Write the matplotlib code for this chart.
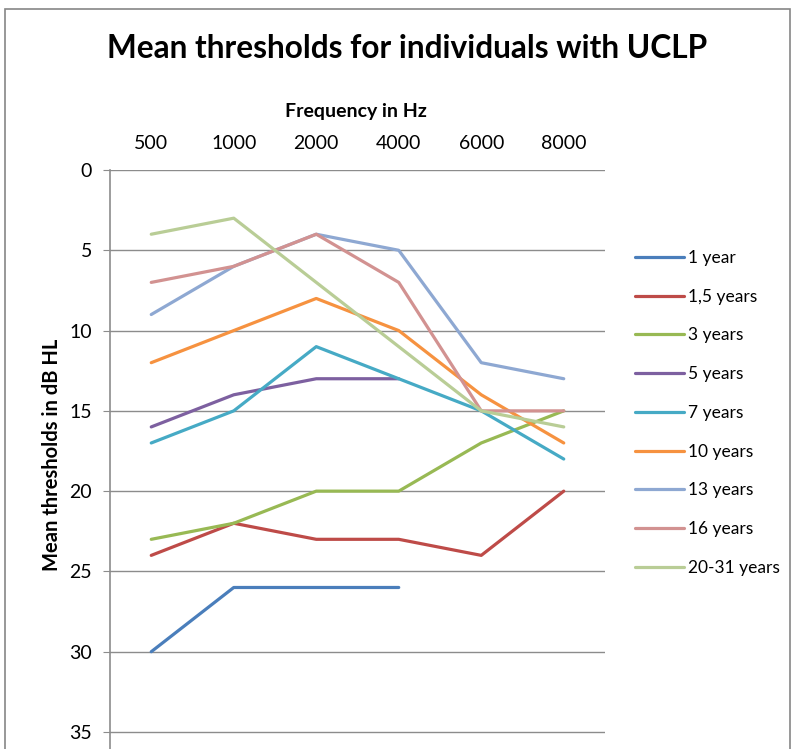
import matplotlib
matplotlib.use("Agg")
import matplotlib.pyplot as plt
from matplotlib.patches import Rectangle
import numpy as np

plt.rcParams['font.family'] = ['Lato', 'DejaVu Sans']

frequencies = ['500', '1000', '2000', '4000', '6000', '8000']
series_names = ['1 year', '1,5 years', '3 years', '5 years', '7 years',
                '10 years', '13 years', '16 years', '20-31 years']
nan = np.nan
y_1 = [30, 26, 26, 26, nan, nan]
y_1_5 = [24, 22, 23, 23, 24, 20]
y_3 = [23, 22, 20, 20, 17, 15]
y_5 = [16, 14, 13, 13, nan, nan]
y_7 = [17, 15, 11, 13, 15, 18]
y_10 = [12, 10, 8, 10, 14, 17]
y_13 = [9, 6, 4, 5, 12, 13]
y_16 = [7, 6, 4, 7, 15, 15]
y_20_31 = [4, 3, 7, 11, 15, 16]
values = [y_1, y_1_5, y_3, y_5, y_7, y_10, y_13, y_16, y_20_31]
colors = ['#4A7EBB', '#BE4B48', '#98B954', '#7D60A0', '#46AAC5',
          '#F69240', '#8EA8D2', '#D29291', '#B9CD96']
yticks = [0, 5, 10, 15, 20, 25, 30, 35]

W, H = 794, 749
fig = plt.figure(figsize=(W / 100, H / 100), dpi=100)

# outer chart border
fig.patches.append(Rectangle((5 / W, -0.01), (785) / W, 1 - 9 / H + 0.01,
                             transform=fig.transFigure, fill=False,
                             edgecolor='#868686', linewidth=1.2))

left, right = 110, 605
top, bottom = 170, 749
ax = fig.add_axes([left / W, 1 - bottom / H, (right - left) / W, (bottom - top) / H])

x = np.arange(len(frequencies))
for name, vals, c in zip(series_names, values, colors):
    ax.plot(x, vals, color=c, lw=2.3, label=name, solid_capstyle='round')

ax.set_xlim(-0.5, len(frequencies) - 0.5)
ax.set_ylim((bottom - top) / ((732 - 170) / 35), 0)
ax.set_yticks(yticks)
ax.yaxis.grid(True, color='#8C8C8C', lw=1)
ax.set_axisbelow(True)
for s in ['top', 'right', 'bottom']:
    ax.spines[s].set_visible(False)
ax.spines['left'].set_color('#8C8C8C')
ax.spines['left'].set_linewidth(1.2)
ax.tick_params(axis='y', length=5, color='#8C8C8C', labelsize=14, pad=8)
ax.xaxis.tick_top()
ax.set_xticks(x)
ax.set_xticklabels(frequencies)
ax.tick_params(axis='x', length=0, labelsize=14, pad=13)

fig.text(356 / W, 1 - 112 / H, 'Frequency in Hz', ha='center', va='center',
         fontsize=14, fontweight='bold')
fig.text(52 / W, 1 - 455 / H, 'Mean thresholds in dB HL', ha='center', va='center',
         rotation=90, fontsize=14.5, fontweight='bold')
fig.text(407 / W, 1 - 48 / H, 'Mean thresholds for individuals with UCLP',
         ha='center', va='center', fontsize=22.8, fontweight='bold')

leg = fig.legend(loc='upper left', bbox_to_anchor=(628 / W, 1 - 243 / H),
                 frameon=False, fontsize=12.5, handlelength=2.8,
                 handletextpad=0.25, labelspacing=1.31, borderaxespad=0)

fig.savefig('out.png', dpi=100)
